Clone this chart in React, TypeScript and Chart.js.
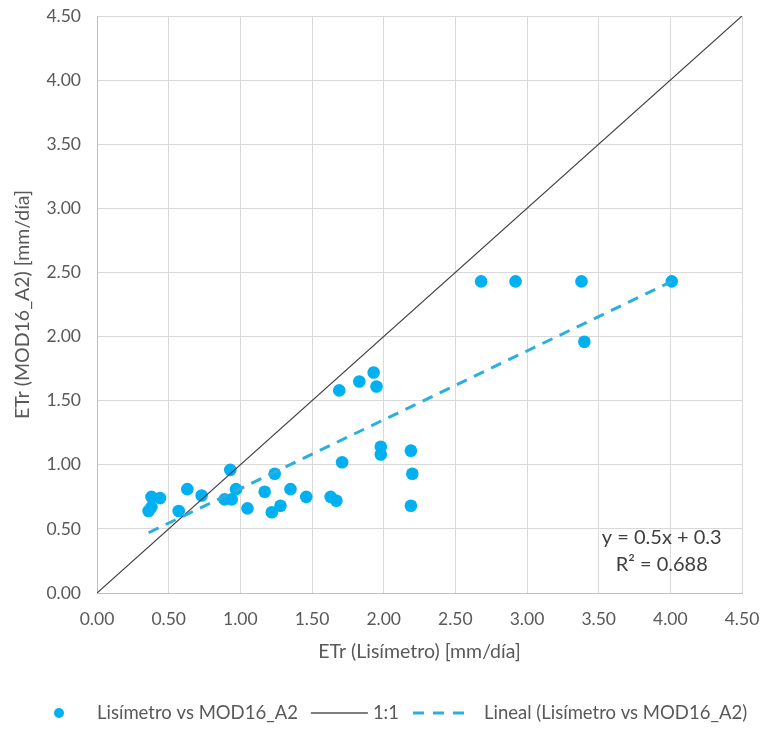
import React, { useEffect, useRef } from "react";
import { Chart, registerables } from "chart.js";

Chart.register(...registerables);

// Scatter data: ETr Lisímetro (x) vs ETr MOD16_A2 (y), mm/día
const lisimetroX = [
  0.38, 0.44, 0.36, 0.38, 0.63, 0.57, 0.73, 0.89, 0.94, 0.93, 0.97, 1.05,
  1.17, 1.24, 1.22, 1.28, 1.35, 1.46, 1.63, 1.67, 1.69, 1.71, 1.83, 1.93,
  1.95, 1.98, 1.98, 2.19, 2.20, 2.19, 2.68, 2.92, 3.38, 3.40, 4.01,
];
const modisY = [
  0.75, 0.74, 0.64, 0.67, 0.81, 0.64, 0.76, 0.73, 0.73, 0.96, 0.81, 0.66,
  0.79, 0.93, 0.63, 0.68, 0.81, 0.75, 0.75, 0.72, 1.58, 1.02, 1.65, 1.72,
  1.61, 1.14, 1.08, 1.11, 0.93, 0.68, 2.43, 2.43, 2.43, 1.96, 2.43,
];

// 1:1 reference line
const oneToOneX = [0, 4.5];
const oneToOneY = [0, 4.5];

// Linear trend line (Lineal) endpoints as drawn
const trendX = [0.36, 4.01];
const trendY = [0.47, 2.43];

// Axis ticks
const tickValues = [0, 0.5, 1, 1.5, 2, 2.5, 3, 3.5, 4, 4.5];

// Labels
const seriesName = "Lisímetro vs MOD16_A2";
const oneToOneName = "1:1";
const trendName = "Lineal (Lisímetro vs MOD16_A2)";
const xTitle = "ETr (Lisímetro) [mm/día]";
const yTitle = "ETr (MOD16_A2) [mm/día]";
const equationLines = ["y = 0.5x + 0.3", "R² = 0.688"];
const equationAnchor = { x: 3.94, y: [0.43, 0.22] };

const FONT = "Lato, 'Open Sans', sans-serif";
const TEXT = "#595959";
const MARKER = "#00B0F0";
const TREND = "#2BAFE0";

const overlayPlugin = {
  id: "overlay",
  afterDraw(chart: any) {
    const ctx = chart.ctx as CanvasRenderingContext2D;
    const xs = chart.scales.x;
    const ys = chart.scales.y;
    ctx.save();
    // equation text
    ctx.fillStyle = "#404040";
    ctx.font = `20px ${FONT}`;
    ctx.textAlign = "center";
    ctx.textBaseline = "middle";
    equationLines.forEach((t, i) => {
      ctx.fillText(t, xs.getPixelForValue(equationAnchor.x), ys.getPixelForValue(equationAnchor.y[i]));
    });

    // legend
    const ly = 713;
    ctx.font = `18.5px ${FONT}`;
    ctx.textAlign = "left";
    ctx.fillStyle = MARKER;
    ctx.beginPath();
    ctx.arc(59, ly, 5, 0, Math.PI * 2);
    ctx.fill();
    ctx.fillStyle = TEXT;
    let x = 97;
    ctx.fillText(seriesName, x, ly);
    x += ctx.measureText(seriesName).width + 13;
    ctx.strokeStyle = "#000000";
    ctx.lineWidth = 1.2;
    ctx.beginPath();
    ctx.moveTo(x, ly);
    ctx.lineTo(x + 57, ly);
    ctx.stroke();
    x += 62;
    ctx.fillText(oneToOneName, x, ly);
    x += ctx.measureText(oneToOneName).width + 14;
    ctx.strokeStyle = TREND;
    ctx.lineWidth = 3;
    ctx.setLineDash([11, 9]);
    ctx.beginPath();
    ctx.moveTo(x, ly);
    ctx.lineTo(x + 54, ly);
    ctx.stroke();
    ctx.setLineDash([]);
    x += 71;
    ctx.fillText(trendName, x, ly);
    ctx.restore();
  },
};

export default function App() {
  const canvasRef = useRef<HTMLCanvasElement | null>(null);

  useEffect(() => {
    document.body.style.margin = "0";
    const canvas = canvasRef.current;
    if (!canvas) return;

    const points = lisimetroX.map((v, i) => ({ x: v, y: modisY[i] }));
    const oneLine = oneToOneX.map((v, i) => ({ x: v, y: oneToOneY[i] }));
    const trendLine = trendX.map((v, i) => ({ x: v, y: trendY[i] }));

    const chart = new Chart(canvas, {
      type: "scatter",
      data: {
        datasets: [
          {
            label: seriesName,
            data: points,
            backgroundColor: MARKER,
            borderColor: MARKER,
            pointRadius: 6.3,
            pointBorderWidth: 0,
            order: 3,
          },
          {
            type: "line",
            label: oneToOneName,
            data: oneLine,
            borderColor: "#404040",
            borderWidth: 1.2,
            pointRadius: 0,
            fill: false,
            order: 2,
          },
          {
            type: "line",
            label: trendName,
            data: trendLine,
            borderColor: TREND,
            borderWidth: 3,
            borderDash: [11, 8],
            pointRadius: 0,
            fill: false,
            order: 1,
          },
        ] as any,
      },
      options: {
        animation: false,
        responsive: false,
        maintainAspectRatio: false,
        layout: { padding: { top: 16, right: 21, bottom: 0, left: 0 } },
        plugins: {
          legend: { display: false },
          tooltip: { enabled: false },
        },
        scales: {
          x: {
            type: "linear",
            min: 0,
            max: 4.5,
            afterBuildTicks: (s: any) => {
              s.ticks = tickValues.map((v) => ({ value: v }));
            },
            afterFit: (s: any) => {
              s.height = 136;
              s.paddingLeft = 0;
              s.paddingRight = 0;
            },
            grid: { color: "#D9D9D9", drawTicks: false, lineWidth: 1 },
            border: { color: "#BFBFBF" },
            ticks: {
              color: TEXT,
              font: { family: FONT, size: 17.5 },
              padding: 16,
              callback: (v: any) => Number(v).toFixed(2),
            },
            title: {
              display: true,
              text: xTitle,
              color: TEXT,
              font: { family: FONT, size: 19.5 },
              padding: { top: 4, bottom: 66 },
            },
          },
          y: {
            type: "linear",
            min: 0,
            max: 4.5,
            afterBuildTicks: (s: any) => {
              s.ticks = tickValues.map((v) => ({ value: v }));
            },
            afterFit: (s: any) => {
              s.width = 97;
              s.paddingTop = 0;
              s.paddingBottom = 0;
            },
            grid: { color: "#D9D9D9", drawTicks: false, lineWidth: 1 },
            border: { color: "#BFBFBF" },
            ticks: {
              color: TEXT,
              font: { family: FONT, size: 17.5 },
              padding: 16,
              callback: (v: any) => Number(v).toFixed(2),
            },
            title: {
              display: true,
              text: yTitle,
              color: TEXT,
              font: { family: FONT, size: 19.5 },
              padding: { top: 11, bottom: 4 },
            },
          },
        },
      },
      plugins: [overlayPlugin],
    });

    return () => chart.destroy();
  }, []);

  return (
    <div style={{ width: 763, height: 729, background: "#ffffff" }}>
      <canvas ref={canvasRef} width={763} height={729} style={{ display: "block" }} />
    </div>
  );
}
